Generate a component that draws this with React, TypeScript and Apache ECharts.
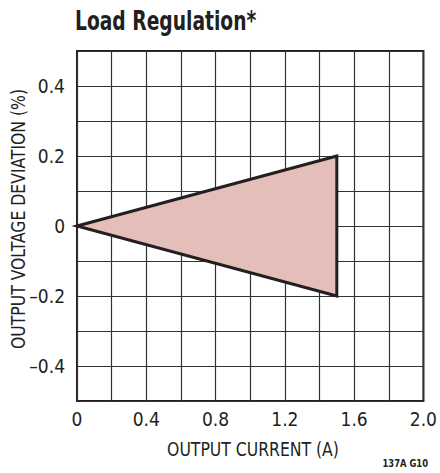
import React, { useEffect, useRef } from "react";
import * as echarts from "echarts";

const regionX: number[] = [0, 1.5, 1.5];
const regionY: number[] = [0, 0.2, -0.2];
const xTickLabels: number[] = [0, 0.4, 0.8, 1.2, 1.6, 2.0];
const yTickLabels: number[] = [-0.4, -0.2, 0, 0.2, 0.4];

const FONT = "'DejaVu Sans Condensed', 'Liberation Sans Narrow', Arial, sans-serif";
const INK = "#231f20";

function fmtX(v: number): string {
  const r = Math.round(v * 10) / 10;
  if (!xTickLabels.some((t) => Math.abs(t - r) < 1e-6)) return "";
  if (r === 0) return "0";
  return r.toFixed(1);
}
function fmtY(v: number): string {
  const r = Math.round(v * 10) / 10;
  if (!yTickLabels.some((t) => Math.abs(t - r) < 1e-6)) return "";
  if (r === 0) return "0";
  return (r < 0 ? "\u2013" : "") + Math.abs(r).toFixed(1);
}

export default function App() {
  const ref = useRef<HTMLDivElement>(null);
  useEffect(() => {
    if (!ref.current) return;
    const chart = echarts.init(ref.current, null, { renderer: "svg" });
    const pts = regionX.map((x, i) => [x, regionY[i]]);
    chart.setOption({
      animation: false,
      backgroundColor: "#ffffff",
      graphic: [
        {
          type: "text",
          x: 75,
          y: 21,
          scaleX: 0.77,
          style: {
            text: "Load Regulation*",
            font: "bold 27px " + FONT,
            fill: INK,
            verticalAlign: "middle",
            align: "left",
          },
        },
        {
          type: "text",
          x: 253,
          y: 449,
          scaleX: 0.87,
          style: {
            text: "OUTPUT CURRENT (A)",
            font: "20px " + FONT,
            fill: INK,
            align: "center",
            verticalAlign: "middle",
          },
        },
        {
          type: "group",
          x: 18,
          y: 219,
          rotation: Math.PI / 2,
          children: [
            {
              type: "text",
              x: 0,
              y: 0,
              scaleX: 0.87,
              style: {
                text: "OUTPUT VOLTAGE DEVIATION (%)",
                font: "20px " + FONT,
                fill: INK,
                align: "center",
                verticalAlign: "middle",
              },
            },
          ],
        },
        {
          type: "text",
          x: 428,
          y: 463,
          scaleX: 0.85,
          style: {
            text: "137A G10",
            font: "bold 11px " + FONT,
            fill: INK,
            align: "right",
            verticalAlign: "middle",
          },
        },
      ],
      grid: {
        left: 77,
        right: 12,
        top: 51,
        bottom: 72,
        show: true,
        borderColor: INK,
        borderWidth: 2,
        containLabel: false,
      },
      xAxis: {
        type: "value",
        min: 0,
        max: 2,
        interval: 0.2,
        axisLine: { show: false },
        axisTick: { show: false },
        axisLabel: {
          formatter: fmtX,
          fontFamily: FONT,
          fontSize: 19,
          color: INK,
          margin: 8,
          showMinLabel: true,
          showMaxLabel: true,
        },
        splitLine: { show: true, lineStyle: { color: "#333333", width: 1.2 } },
      },
      yAxis: {
        type: "value",
        min: -0.5,
        max: 0.5,
        interval: 0.1,
        axisLine: { show: false },
        axisTick: { show: false },
        axisLabel: {
          formatter: fmtY,
          fontFamily: FONT,
          fontSize: 19,
          color: INK,
          margin: 12,
        },
        splitLine: { show: true, lineStyle: { color: "#333333", width: 1.2 } },
      },
      series: [
        {
          type: "custom",
          data: [0],
          renderItem: (params: any, api: any) => {
            const points = pts.map((p) => api.coord(p));
            return {
              type: "polygon",
              shape: { points },
              style: {
                fill: "#e4bfba",
                stroke: INK,
                lineWidth: 3,
                lineJoin: "miter",
              },
            };
          },
          z: 10,
        },
      ],
    });
    return () => chart.dispose();
  }, []);
  return <div ref={ref} style={{ width: 440, height: 473, position: "absolute", left: 0, top: 0 }} />;
}
